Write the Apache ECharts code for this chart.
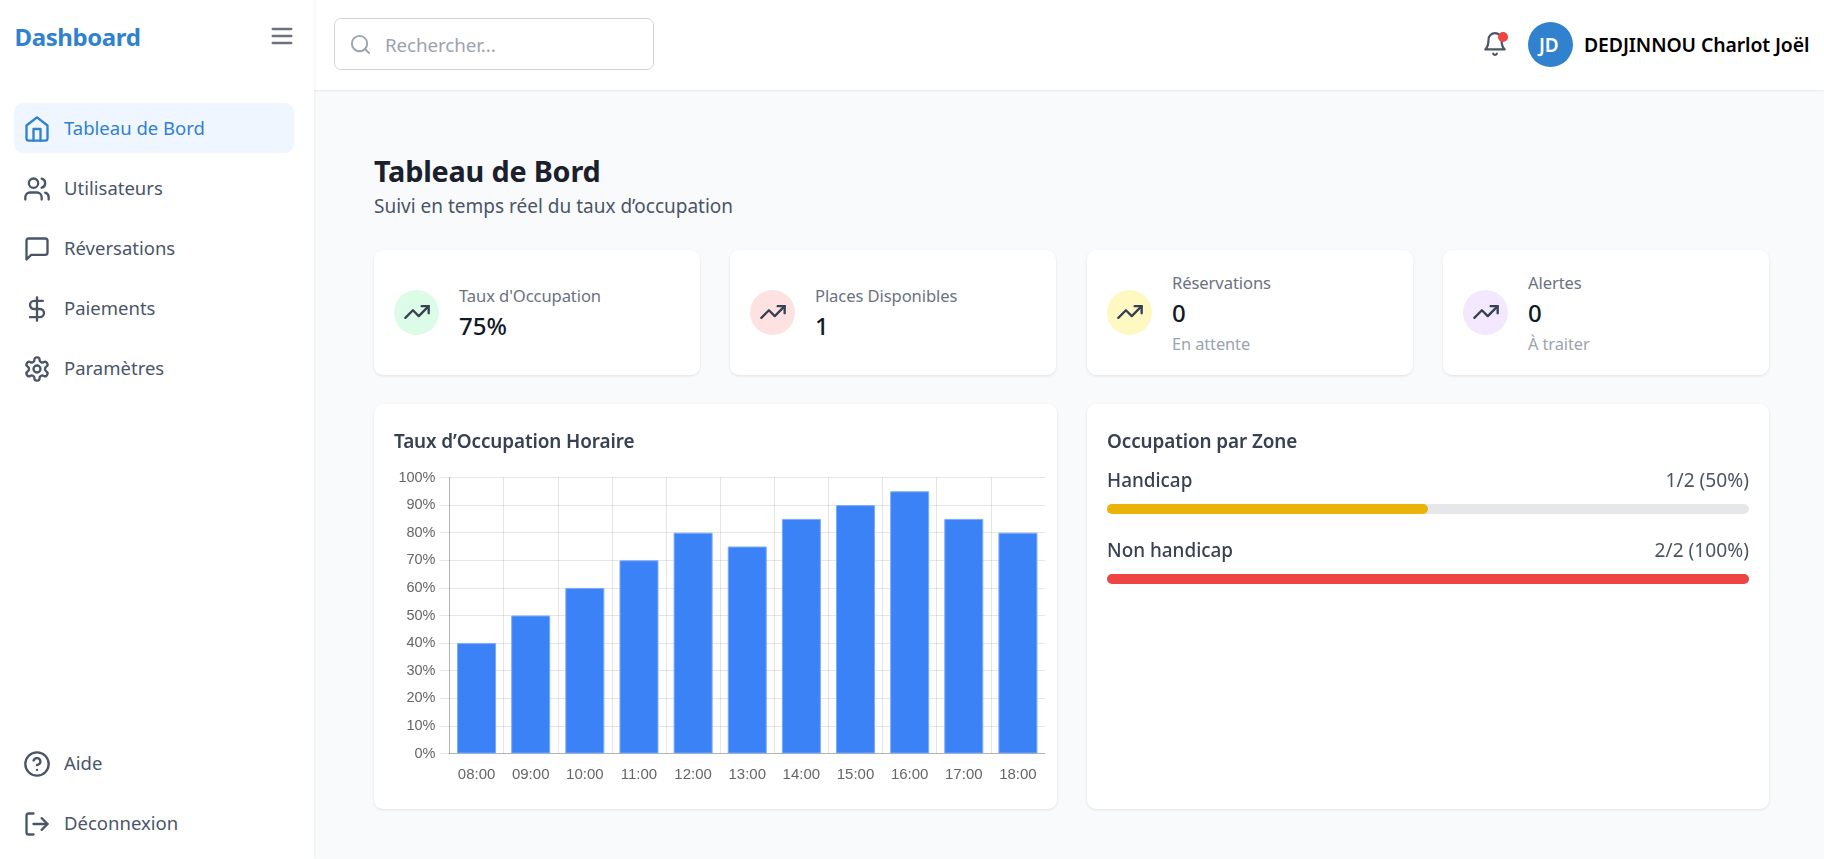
<!DOCTYPE html>
<html>

<head>
    <meta charset="utf-8">
    <title>Dashboard</title>
    <script src="https://cdn.jsdelivr.net/npm/echarts@6/dist/echarts.min.js"></script>
    <style>
        html, body {
            margin: 0;
            width: 1824px;
            height: 859px;
            overflow: hidden;
            background: #f9fafb;
            font-family: 'Noto Sans', sans-serif;
        }

        .abs, .t { position: absolute; }
        .t { white-space: nowrap; transform: translateY(-50%); line-height: 1.2; }
        svg.i { position: absolute; fill: none; stroke: currentColor; stroke-linecap: round; stroke-linejoin: round; stroke-width: 2; }

        #sidebar { left: 0; top: 0; width: 314px; height: 859px; background: #fff; box-shadow: 1px 0 3px rgba(0, 0, 0, .05); z-index: 2; }
        #topbar { left: 314px; top: 0; width: 1510px; height: 90px; background: #fff; box-shadow: 0 1px 2px rgba(0, 0, 0, .07); }
        .card { position: absolute; background: #fff; border-radius: 9px; box-shadow: 0 1px 3px rgba(0, 0, 0, .1); }
        .chart { position: absolute; left: 0; top: 0; width: 100%; height: 100%; }
    </style>
</head>

<body>
    <div id="topbar" class="abs"></div>
    <div id="sidebar" class="abs"></div>
    <div id="page"></div>

    <script type="text/javascript">
        // bar chart data
        const hours = ['08:00', '09:00', '10:00', '11:00', '12:00', '13:00', '14:00', '15:00', '16:00', '17:00', '18:00'];
        const occupancyRates = [40, 50, 60, 70, 80, 75, 85, 90, 95, 85, 80];

        // zones
        const zoneNames = ['Handicap', 'Non handicap'];
        const zoneTaken = [1, 2];
        const zoneTotal = [2, 2];
        const zoneColors = ['#eab308', '#ef4444'];

        // stat cards
        const statLabels = ["Taux d'Occupation", 'Places Disponibles', 'Réservations', 'Alertes'];
        const statValues = ['75%', '1', '0', '0'];
        const statNotes = ['', '', 'En attente', 'À traiter'];
        const statTints = ['#dcfce7', '#fee2e2', '#fef9c3', '#f3e8ff'];
        const statLefts = [374, 730, 1087, 1443];

        // side menu
        const navLabels = ['Tableau de Bord', 'Utilisateurs', 'Réversations', 'Paiements', 'Paramètres', 'Aide', 'Déconnexion'];
        const navIcons = ['home', 'users', 'message', 'dollar', 'gear', 'help', 'logout'];
        const navRows = [129, 189, 249, 309, 369, 764, 824];

        const icons = {
            home: '<path d="m3 9 9-7 9 7v11a2 2 0 0 1-2 2H5a2 2 0 0 1-2-2z"/><polyline points="9 22 9 12 15 12 15 22"/>',
            users: '<path d="M16 21v-2a4 4 0 0 0-4-4H6a4 4 0 0 0-4 4v2"/><circle cx="9" cy="7" r="4"/><path d="M22 21v-2a4 4 0 0 0-3-3.87"/><path d="M16 3.13a4 4 0 0 1 0 7.75"/>',
            message: '<path d="M21 15a2 2 0 0 1-2 2H7l-4 4V5a2 2 0 0 1 2-2h14a2 2 0 0 1 2 2z"/>',
            dollar: '<line x1="12" x2="12" y1="2" y2="22"/><path d="M17 5H9.5a3.5 3.5 0 0 0 0 7h5a3.5 3.5 0 0 1 0 7H6"/>',
            gear: '<path d="M12.22 2h-.44a2 2 0 0 0-2 2v.18a2 2 0 0 1-1 1.73l-.43.25a2 2 0 0 1-2 0l-.15-.08a2 2 0 0 0-2.73.73l-.22.38a2 2 0 0 0 .73 2.73l.15.1a2 2 0 0 1 1 1.72v.51a2 2 0 0 1-1 1.74l-.15.09a2 2 0 0 0-.73 2.73l.22.38a2 2 0 0 0 2.73.73l.15-.08a2 2 0 0 1 2 0l.43.25a2 2 0 0 1 1 1.73V20a2 2 0 0 0 2 2h.44a2 2 0 0 0 2-2v-.18a2 2 0 0 1 1-1.73l.43-.25a2 2 0 0 1 2 0l.15.08a2 2 0 0 0 2.73-.73l.22-.39a2 2 0 0 0-.73-2.73l-.15-.08a2 2 0 0 1-1-1.74v-.5a2 2 0 0 1 1-1.74l.15-.09a2 2 0 0 0 .73-2.73l-.22-.38a2 2 0 0 0-2.73-.73l-.15.08a2 2 0 0 1-2 0l-.43-.25a2 2 0 0 1-1-1.73V4a2 2 0 0 0-2-2z"/><circle cx="12" cy="12" r="3"/>',
            help: '<circle cx="12" cy="12" r="10"/><path d="M9.09 9a3 3 0 0 1 5.83 1c0 2-3 3-3 3"/><path d="M12 17h.01"/>',
            logout: '<path d="M9 21H5a2 2 0 0 1-2-2V5a2 2 0 0 1 2-2h4"/><polyline points="16 17 21 12 16 7"/><line x1="21" x2="9" y1="12" y2="12"/>',
            trend: '<polyline points="22 7 13.5 15.5 8.5 10.5 2 17"/><polyline points="16 7 22 7 22 13"/>',
            bell: '<path d="M6 8a6 6 0 0 1 12 0c0 7 3 9 3 9H3s3-2 3-9"/><path d="M10.3 21a1.94 1.94 0 0 0 3.4 0"/>',
            search: '<circle cx="11" cy="11" r="8"/><path d="m21 21-4.3-4.3"/>',
            menu: '<line x1="4" x2="20" y1="12" y2="12"/><line x1="4" x2="20" y1="6" y2="6"/><line x1="4" x2="20" y1="18" y2="18"/>'
        };

        const page = document.getElementById('page');
        let html = '';

        // text, centred vertically on y
        function text(str, x, y, size, color, weight, spacing) {
            html += '<div class="t" style="left:' + x + 'px;top:' + y + 'px;font-size:' + size + 'px;color:' + color +
                ';font-weight:' + (weight || 400) + ';letter-spacing:' + (spacing || 0) + 'px;z-index:3">' + str + '</div>';
        }

        // icon, given its centre
        function icon(name, cx, cy, size, color) {
            html += '<svg class="i" viewBox="0 0 24 24" style="left:' + (cx - size / 2) + 'px;top:' + (cy - size / 2) + 'px;width:' +
                size + 'px;height:' + size + 'px;color:' + color + ';z-index:3">' + icons[name] + '</svg>';
        }

        function box(x, y, w, h, css) {
            html += '<div class="abs" style="left:' + x + 'px;top:' + y + 'px;width:' + w + 'px;height:' + h + 'px;z-index:3;' + css + '"></div>';
        }

        // sidebar
        text('Dashboard', 14.5, 37, 24, '#3182ce', 700, -0.4);
        icon('menu', 281.5, 35.5, 28, '#6b7280');
        box(14, 103, 280, 50, 'background:#eff6ff;border-radius:9px');
        navLabels.forEach(function (label, i) {
            const color = i === 0 ? '#3182ce' : '#4a5568';
            icon(navIcons[i], 36.5, navRows[i], 28, color);
            text(label, 64, navRows[i] - 1, 18.5, color, 400, 0);
        });

        // top bar
        box(334, 18, 318, 50, 'background:#fff;border:1px solid #d1d5db;border-radius:7px');
        icon('search', 360, 44, 23, '#9ca3af');
        text('Rechercher...', 385, 44.5, 18.8, '#9ca3af', 400, -0.1);
        icon('bell', 1495, 44, 26, '#4b5563');
        box(1498, 32, 10, 10, 'background:#ef4444;border-radius:50%');
        box(1528, 22, 45, 45, 'background:#3182ce;border-radius:50%');
        text('JD', 1539, 44.5, 19, '#fff', 600);
        text('DEDJINNOU Charlot Joël', 1584, 44.5, 19.4, '#000', 600, -0.1);

        // heading
        text('Tableau de Bord', 374, 171, 28.8, '#1a202c', 700, -0.2);
        text('Suivi en temps réel du taux d’occupation', 374, 205.5, 19, '#4a5568', 400, 0);

        // stat cards
        statLabels.forEach(function (label, i) {
            const x = statLefts[i];
            const hasNote = statNotes[i] !== '';
            box(x, 250, 326, 125, 'background:#fff;border-radius:9px;box-shadow:0 1px 3px rgba(0,0,0,.1)');
            box(x + 20, 290, 45, 45, 'background:' + statTints[i] + ';border-radius:50%');
            icon('trend', x + 42.5, 312, 28, '#374151');
            text(label, x + 85, hasNote ? 283 : 296, 16.6, '#6b7280', 400, -0.1);
            text(statValues[i], x + 85, hasNote ? 313 : 326, 24, '#111827', 500);
            if (hasNote) {
                text(statNotes[i], x + 85, 343.5, 16.4, '#9ca3af', 400, -0.1);
            }
        });

        // chart cards
        html += '<div class="card" style="left:374px;top:404px;width:683px;height:405px;z-index:3"><div id="hourChart" class="chart"></div></div>';
        html += '<div class="card" style="left:1087px;top:404px;width:682px;height:405px;z-index:3"><div id="zoneChart" class="chart"></div></div>';
        text('Taux d’Occupation Horaire', 394, 440.7, 18.9, '#374151', 600, -0.1);
        text('Occupation par Zone', 1107, 440.7, 18.9, '#374151', 600, -0.1);

        page.innerHTML = html;

        // hourly occupancy
        const hourChart = echarts.init(document.getElementById('hourChart'));
        hourChart.setOption({
            animation: false,
            grid: { left: 75.5, right: 12, top: 73.5, bottom: 55.5 },
            xAxis: {
                type: 'category',
                data: hours,
                axisLine: { lineStyle: { color: 'rgba(0,0,0,0.22)' } },
                axisTick: { length: 10, lineStyle: { color: 'rgba(0,0,0,0.1)' } },
                splitLine: { show: true, showMaxLine: false, interval: 0, lineStyle: { color: 'rgba(0,0,0,0.1)' } },
                axisLabel: { interval: 0, margin: 14, color: '#666', fontSize: 15, fontFamily: 'Liberation Sans' }
            },
            yAxis: {
                type: 'value',
                min: 0,
                max: 100,
                interval: 10,
                axisLine: { show: true, lineStyle: { color: 'rgba(0,0,0,0.22)' } },
                axisTick: { show: true, length: 10, lineStyle: { color: 'rgba(0,0,0,0.1)' } },
                splitLine: { lineStyle: { color: 'rgba(0,0,0,0.1)' } },
                axisLabel: { margin: 14, formatter: '{value}%', color: '#666', fontSize: 14.5, fontFamily: 'Liberation Sans' }
            },
            series: [{
                type: 'bar',
                data: occupancyRates,
                barWidth: 39,
                itemStyle: { color: '#3b82f6', borderColor: '#7cabf9', borderWidth: 1 }
            }]
        });

        // occupancy per zone, a track with the filled part on top of it
        const zoneChart = echarts.init(document.getElementById('zoneChart'));
        zoneChart.setOption({
            animation: false,
            grid: { left: 20, right: 20, top: 70, height: 140 },
            xAxis: { type: 'value', min: 0, max: 100, show: false },
            yAxis: { type: 'category', inverse: true, data: zoneNames, show: false },
            series: [{
                type: 'bar',
                barWidth: 10,
                barGap: '-100%',
                silent: true,
                data: zoneNames.map(function () { return 100; }),
                itemStyle: { color: '#e5e7eb', borderRadius: 5 },
                label: {
                    show: true,
                    position: ['100%', -22],
                    align: 'right',
                    verticalAlign: 'middle',
                    fontSize: 19.2,
                    color: '#4b5563',
                    fontFamily: 'Noto Sans',
                    formatter: function (p) {
                        const i = p.dataIndex;
                        return zoneTaken[i] + '/' + zoneTotal[i] + ' (' + Math.round(zoneTaken[i] / zoneTotal[i] * 100) + '%)';
                    }
                }
            }, {
                type: 'bar',
                barWidth: 10,
                silent: true,
                data: zoneNames.map(function (name, i) {
                    return { value: zoneTaken[i] / zoneTotal[i] * 100, itemStyle: { color: zoneColors[i] } };
                }),
                itemStyle: { borderRadius: 5 },
                label: {
                    show: true,
                    position: [0, -22],
                    align: 'left',
                    verticalAlign: 'middle',
                    fontSize: 18.9,
                    fontWeight: 500,
                    color: '#374151',
                    fontFamily: 'Noto Sans',
                    formatter: '{b}'
                }
            }]
        });
    </script>
</body>

</html>
